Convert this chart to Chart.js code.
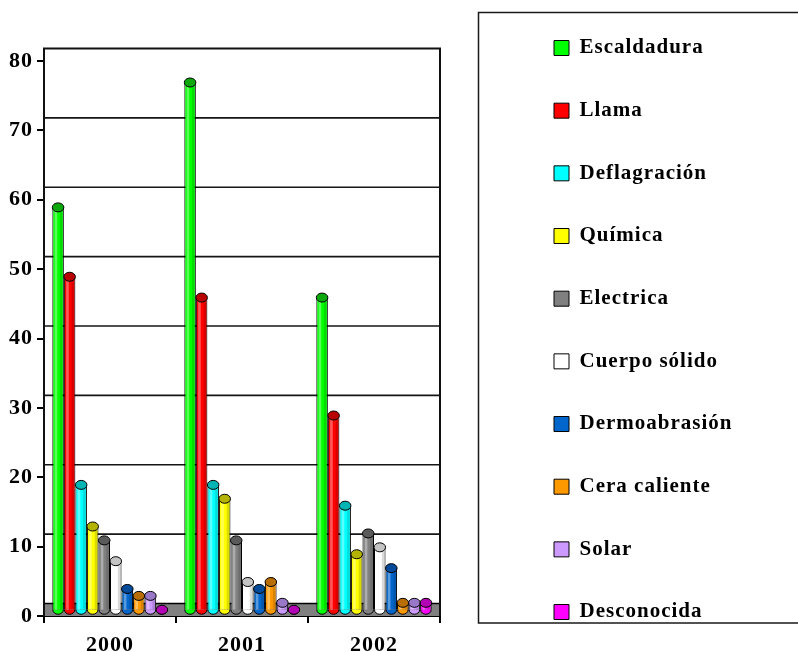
<!DOCTYPE html>
<html>
<head>
<meta charset="utf-8">
<script src="https://cdn.jsdelivr.net/npm/chart.js@4.4.1/dist/chart.umd.min.js"></script>
<style>
  html, body { margin: 0; padding: 0; background: #ffffff; }
  canvas { display: block; }
</style>
</head>
<body>
<canvas id="chart" width="798" height="652"></canvas>
<script>
// Years on the category axis
const years = ['2000', '2001', '2002'];

// Cases per cause of burn, one value per year
const escaldadura   = [58, 76, 45];
const llama         = [48, 45, 28];
const deflagracion  = [18, 18, 15];
const quimica       = [12, 16, 8];
const electrica     = [10, 10, 11];
const cuerpoSolido  = [7, 4, 9];
const dermoabrasion = [3, 3, 6];
const ceraCaliente  = [2, 4, 1];
const solar         = [2, 1, 1];
const desconocida   = [0, 0, 1];

const seriesNames = ['Escaldadura', 'Llama', 'Deflagración', 'Química', 'Electrica',
                     'Cuerpo sólido', 'Dermoabrasión', 'Cera caliente', 'Solar', 'Desconocida'];
const seriesValues = [escaldadura, llama, deflagracion, quimica, electrica,
                      cuerpoSolido, dermoabrasion, ceraCaliente, solar, desconocida];

// Value axis
const yMin = 0;
const yMax = 80;
const yStep = 10;
const wallLines = [10, 20, 30, 40, 50, 60, 70];

// Styling
const bodyColors = ['#00FF00', '#FF0000', '#00FFFF', '#FFFF00', '#808080',
                    '#FFFFFF', '#0066CC', '#FF9900', '#CC99FF', '#FF00FF'];
const capColors  = ['#0BA80B', '#B80000', '#00B4B4', '#B4B400', '#5A5A5A',
                    '#C4C4C4', '#004A99', '#B86E00', '#9A78C8', '#B400B4'];

const FONT_FAMILY = '"Liberation Serif", "Times New Roman", serif';
const FONT_SIZE = 21;
const TICK_FONT_SIZE = 22;
const LETTER_SPACING = '1px';
const WALL_DEPTH = 1.8;      // depth of the 3D floor, in value units
const CAP_RY = 4.5;          // vertical radius of cylinder caps, px
const LEGEND_ITEM_X = 554;   // left edge of the legend swatches
const LEGEND_BOX = 15;
const LEGEND_STEP = 62.67;   // distance between legend rows
const LEGEND_PAD = 10.5;
const LEGEND_ROW = LEGEND_STEP - LEGEND_PAD;
const PAD_TOP = 27;
const PAD_BOTTOM = -14;
const PLOT_TOP = 61;
const PLOT_BOTTOM = 616;
const PLOT_LEFT = 44;
const PLOT_RIGHT = 440;

Chart.defaults.font.family = FONT_FAMILY;
Chart.defaults.font.size = FONT_SIZE;
Chart.defaults.font.weight = 'bold';
Chart.defaults.color = '#000000';

// width of the widest legend entry, so the legend column lands where wanted
const measureCtx = document.createElement('canvas').getContext('2d');
measureCtx.font = 'bold ' + FONT_SIZE + 'px ' + FONT_FAMILY;
measureCtx.letterSpacing = LETTER_SPACING;
const widestText = Math.max(...seriesNames.map(t => measureCtx.measureText(t).width));
const legendItemWidth = LEGEND_BOX + FONT_SIZE / 2 + widestText;
const rightPadding = 798 - 10 - LEGEND_ITEM_X - legendItemWidth;
const spacerWidth = LEGEND_ITEM_X - LEGEND_PAD - PLOT_RIGHT;

const datasets = seriesNames.map((name, i) => ({
  label: name,
  data: seriesValues[i],
  backgroundColor: bodyColors[i],
  borderColor: '#000000',
  borderWidth: 1,
  borderSkipped: 'start',
  yAxisID: 'yBar',
  categoryPercentage: 0.874,
  barPercentage: 1.0
}));

const spacingPlugin = {
  id: 'letterSpacing',
  beforeLayout(chart) { chart.ctx.letterSpacing = LETTER_SPACING; },
  beforeDraw(chart) { chart.ctx.letterSpacing = LETTER_SPACING; }
};

// back wall with its grid lines, the floor and the frame
const wallPlugin = {
  id: 'wall',
  beforeDatasetsDraw(chart) {
    const { ctx, chartArea: a } = chart;
    const y = chart.scales.y;
    const wallTop = y.getPixelForValue(yMax + WALL_DEPTH);
    const floorBack = y.getPixelForValue(yMin + WALL_DEPTH);
    ctx.save();
    ctx.strokeStyle = '#151515';
    ctx.lineWidth = 1.6;
    wallLines.forEach(v => {
      const py = y.getPixelForValue(v + WALL_DEPTH);
      ctx.beginPath();
      ctx.moveTo(a.left, py);
      ctx.lineTo(a.right, py);
      ctx.stroke();
    });
    ctx.fillStyle = '#808080';
    ctx.fillRect(a.left + 1, floorBack, a.right - a.left - 1, a.bottom - floorBack);
    ctx.strokeStyle = '#000000';
    ctx.lineWidth = 1.3;
    ctx.beginPath();
    ctx.moveTo(a.left, floorBack);
    ctx.lineTo(a.right, floorBack);
    ctx.stroke();
    ctx.lineWidth = 2;
    ctx.strokeStyle = '#111111';
    ctx.beginPath();
    ctx.moveTo(a.left, a.bottom);
    ctx.lineTo(a.left, wallTop);
    ctx.lineTo(a.right, wallTop);
    ctx.lineTo(a.right, a.bottom);
    ctx.stroke();
    ctx.restore();
  }
};

// rounded base, shading and top cap of every cylinder
const cylinderPlugin = {
  id: 'cylinders',
  afterDatasetsDraw(chart) {
    const ctx = chart.ctx;
    ctx.save();
    chart.data.datasets.forEach((ds, di) => {
      const meta = chart.getDatasetMeta(di);
      if (meta.hidden) return;
      meta.data.forEach(el => {
        const { x, y, base, width } = el.getProps(['x', 'y', 'base', 'width'], true);
        const rx = width / 2;
        const h = base - y;
        if (h > 1) {
          ctx.fillStyle = 'rgba(255,255,255,0.35)';
          ctx.fillRect(x - rx * 0.6, y, rx * 0.45, h);
          ctx.fillStyle = 'rgba(0,0,0,0.14)';
          ctx.fillRect(x + rx * 0.35, y, rx * 0.65 - 1, h);
        }
        ctx.lineWidth = 1;
        ctx.strokeStyle = '#000000';
        ctx.fillStyle = bodyColors[di];
        ctx.beginPath();
        ctx.ellipse(x, base, rx - 0.5, CAP_RY, 0, 0, Math.PI);
        ctx.fill();
        ctx.stroke();
        ctx.fillStyle = capColors[di];
        ctx.beginPath();
        ctx.ellipse(x, y, rx, CAP_RY, 0, 0, Math.PI * 2);
        ctx.fill();
        ctx.stroke();
      });
    });
    ctx.restore();
  }
};

// frame around the legend
const legendFramePlugin = {
  id: 'legendFrame',
  afterDraw(chart) {
    const ctx = chart.ctx;
    ctx.save();
    ctx.strokeStyle = '#1a1a1a';
    ctx.lineWidth = 1.5;
    ctx.strokeRect(478.5, 12.5, 340, 610.5);
    ctx.restore();
  }
};

const baseLabels = Chart.defaults.plugins.legend.labels.generateLabels;

new Chart(document.getElementById('chart'), {
  type: 'bar',
  data: { labels: years, datasets },
  plugins: [spacingPlugin, wallPlugin, cylinderPlugin, legendFramePlugin],
  options: {
    responsive: false,
    animation: false,
    devicePixelRatio: 1,
    layout: { padding: { top: PAD_TOP, right: rightPadding, bottom: PAD_BOTTOM, left: 0 } },
    scales: {
      x: {
        offset: true,
        grid: { drawOnChartArea: false, drawTicks: true, tickLength: 7, color: '#000000', lineWidth: 2, offset: true },
        border: { display: true, color: '#000000', width: 2 },
        ticks: { padding: 9, font: { size: TICK_FONT_SIZE, weight: 'bold' }, color: '#000000' },
        afterFit(s) { s.height = 652 - PAD_BOTTOM - PLOT_BOTTOM; }
      },
      y: {
        position: 'left',
        min: yMin,
        max: yMax,
        ticks: { stepSize: yStep, padding: 4, font: { size: TICK_FONT_SIZE, weight: 'bold' }, color: '#000000' },
        grid: { drawOnChartArea: false, drawTicks: true, tickLength: 7, color: '#000000', lineWidth: 2 },
        border: { display: true, color: '#000000', width: 2 },
        afterFit(s) { s.width = PLOT_LEFT; }
      },
      yBar: {
        position: 'right',
        min: yMin - WALL_DEPTH / 2,
        max: yMax - WALL_DEPTH / 2,
        ticks: { display: false },
        grid: { display: false, drawTicks: false },
        border: { display: false },
        afterFit(s) { s.width = spacerWidth; }
      }
    },
    plugins: {
      title: {
        display: true,
        text: '',
        fullSize: false,
        font: { size: 10, lineHeight: 1 },
        padding: { top: 0, bottom: PLOT_TOP - PAD_TOP - 10 }
      },
      legend: {
        position: 'right',
        align: 'start',
        maxWidth: 400,
        labels: {
          boxWidth: LEGEND_BOX,
          boxHeight: LEGEND_BOX,
          padding: LEGEND_PAD,
          color: '#000000',
          font: { size: FONT_SIZE, weight: 'bold', lineHeight: LEGEND_ROW / FONT_SIZE },
          generateLabels(chart) {
            return baseLabels(chart).map(item => Object.assign(item, { text: [item.text] }));
          }
        }
      },
      tooltip: { enabled: false }
    }
  }
});
</script>
</body>
</html>
